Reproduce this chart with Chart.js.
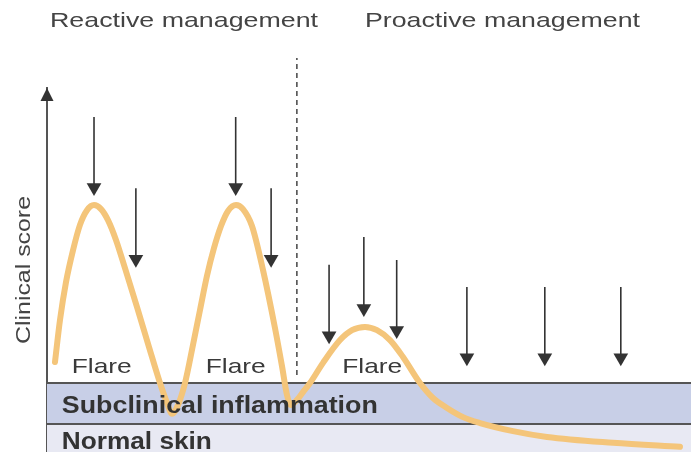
<!DOCTYPE html>
<html>
<head>
<meta charset="utf-8">
<script src="https://cdn.jsdelivr.net/npm/chart.js@4"></script>
<style>
  html, body { margin: 0; padding: 0; background: #fff; }
  canvas { display: block; }
</style>
</head>
<body>
<canvas id="courseChart" width="691" height="452"></canvas>
<script>
// disease course: time (arbitrary units) vs clinical score
const courseTime = [1.24, 2.02, 2.95, 4.04, 5.12, 6.21, 7.30, 8.39, 9.47, 10.71, 12.11, 13.98, 15.84, 17.55, 18.63, 19.41,
  20.34, 21.43, 22.67, 23.76, 24.84, 25.93, 27.02, 28.11, 29.35, 30.43, 31.83, 33.54, 35.40, 36.49, 37.27, 37.89,
  38.82, 39.75, 40.84, 42.86, 45.50, 47.36, 49.38, 51.24, 53.26, 55.28, 57.92, 59.94, 62.11, 64.60, 67.24, 72.36,
  77.64, 87.89, 98.29];
const courseScore = [24.5, 36.0, 46.3, 55.0, 61.9, 65.9, 67.3, 66.2, 63.2, 57.8, 50.1, 39.5, 28.6, 18.8, 13.4, 10.4,
  12.8, 18.8, 29.2, 38.7, 48.0, 55.6, 61.6, 65.7, 67.3, 66.2, 61.6, 49.6, 33.8, 23.4, 15.5, 12.8,
  14.2, 16.3, 18.8, 24.3, 30.5, 33.2, 34.1, 33.2, 30.5, 25.9, 18.8, 14.7, 12.0, 9.5, 7.9, 5.7,
  4.1, 2.5, 1.4];

// treatment arrows: where they sit, where the shaft starts and the arrowhead
const arrowTime = [7.3, 13.8, 29.3, 34.8, 43.8, 49.2, 54.3, 65.2, 77.3, 89.1];
const arrowTop = [91.3, 71.9, 91.3, 71.9, 51.0, 58.6, 52.3, 45.0, 45.0, 45.0];
const arrowHead = [72.1, 52.5, 72.1, 52.5, 31.7, 39.1, 33.1, 25.7, 25.7, 25.7];

// bands
const normalSkinTop = 7.6;
const subclinicalTop = 18.8;

// reactive / proactive divider
const dividerTime = 38.8;
const dividerRange = [21.0, 107.4];

const phaseLabels = ["Reactive management", "Proactive management"];
const flareTimes = [8.5, 29.3, 50.5];
const bandLabels = ["Subclinical inflammation", "Normal skin"];

const FONT = '"Liberation Sans", Arial, sans-serif';

function stretchText(ctx, text, x, y, width) {
  const w = ctx.measureText(text).width;
  ctx.save();
  ctx.translate(x, y);
  ctx.scale(width / w, 1);
  ctx.fillText(text, 0, 0);
  ctx.restore();
}

const annotate = {
  id: "annotate",
  afterDatasetsDraw(chart) {
    const { ctx, chartArea, scales: { x, y } } = chart;
    ctx.save();

    // arrowhead on the y axis
    ctx.fillStyle = "#333";
    ctx.beginPath();
    ctx.moveTo(chartArea.left, chartArea.top);
    ctx.lineTo(chartArea.left - 6.5, chartArea.top + 13);
    ctx.lineTo(chartArea.left + 6.5, chartArea.top + 13);
    ctx.closePath();
    ctx.fill();

    ctx.textAlign = "left";
    ctx.textBaseline = "alphabetic";

    // phase titles
    ctx.fillStyle = "#444";
    ctx.font = "21px " + FONT;
    stretchText(ctx, phaseLabels[0], 50, 27, 268);
    stretchText(ctx, phaseLabels[1], 365, 27, 275);

    // y axis title
    ctx.save();
    ctx.translate(30, 270);
    ctx.rotate(-Math.PI / 2);
    stretchText(ctx, "Clinical score", -74, 0, 148);
    ctx.restore();

    // flare labels
    ctx.fillStyle = "#3a3a3a";
    ctx.font = "21px " + FONT;
    flareTimes.forEach((t) => {
      stretchText(ctx, "Flare", x.getPixelForValue(t) - 30, y.getPixelForValue(21.5), 60);
    });

    // band labels
    ctx.fillStyle = "#333";
    ctx.font = "bold 23px " + FONT;
    stretchText(ctx, bandLabels[0], x.getPixelForValue(2.3), y.getPixelForValue(10.6), 316);
    stretchText(ctx, bandLabels[1], x.getPixelForValue(2.3), y.getPixelForValue(0.8), 150);

    ctx.restore();
  },
};

const arrowSets = arrowTime.map((t, i) => ({
  data: [{ x: t, y: arrowTop[i] }, { x: t, y: arrowHead[i] }],
  borderColor: "#333",
  borderWidth: 1.6,
  pointRadius: [0, 8.5],
  pointStyle: "triangle",
  pointRotation: 180,
  pointBackgroundColor: "#333",
  pointBorderWidth: 0,
  order: 2,
}));

new Chart(document.getElementById("courseChart"), {
  type: "line",
  data: {
    datasets: [
      {
        label: "Clinical score",
        data: courseTime.map((t, i) => ({ x: t, y: courseScore[i] })),
        borderColor: "#f4c57a",
        borderWidth: 6,
        cubicInterpolationMode: "monotone",
        borderCapStyle: "round",
        borderJoinStyle: "round",
        pointRadius: 0,
        fill: false,
        order: 1,
      },
      ...arrowSets,
      {
        label: "divider",
        data: [{ x: dividerTime, y: dividerRange[0] }, { x: dividerTime, y: dividerRange[1] }],
        borderColor: "#444",
        borderWidth: 1.5,
        borderDash: [5, 4],
        pointRadius: 0,
        clip: false,
        order: 3,
      },
      {
        label: "Normal skin",
        data: [{ x: 0, y: normalSkinTop }, { x: 100, y: normalSkinTop }],
        borderColor: "#555",
        borderWidth: 2,
        backgroundColor: "#e8e9f3",
        fill: "origin",
        pointRadius: 0,
        order: 10,
      },
      {
        label: "Subclinical inflammation",
        data: [{ x: 0, y: subclinicalTop }, { x: 100, y: subclinicalTop }],
        borderColor: "#555",
        borderWidth: 2,
        backgroundColor: "#c8cfe7",
        fill: "origin",
        pointRadius: 0,
        order: 11,
      },
    ],
  },
  options: {
    responsive: false,
    devicePixelRatio: 1,
    animation: false,
    layout: { autoPadding: false, padding: { left: 47, top: 88, right: 0, bottom: 0 } },
    scales: {
      x: { type: "linear", min: 0, max: 100, display: false },
      y: {
        min: 0,
        max: 99.2,
        grid: { display: false, drawTicks: false },
        ticks: { display: false },
        border: { color: "#555", width: 2 },
      },
    },
    plugins: { legend: { display: false }, tooltip: { enabled: false } },
  },
  plugins: [annotate],
});
</script>
</body>
</html>
